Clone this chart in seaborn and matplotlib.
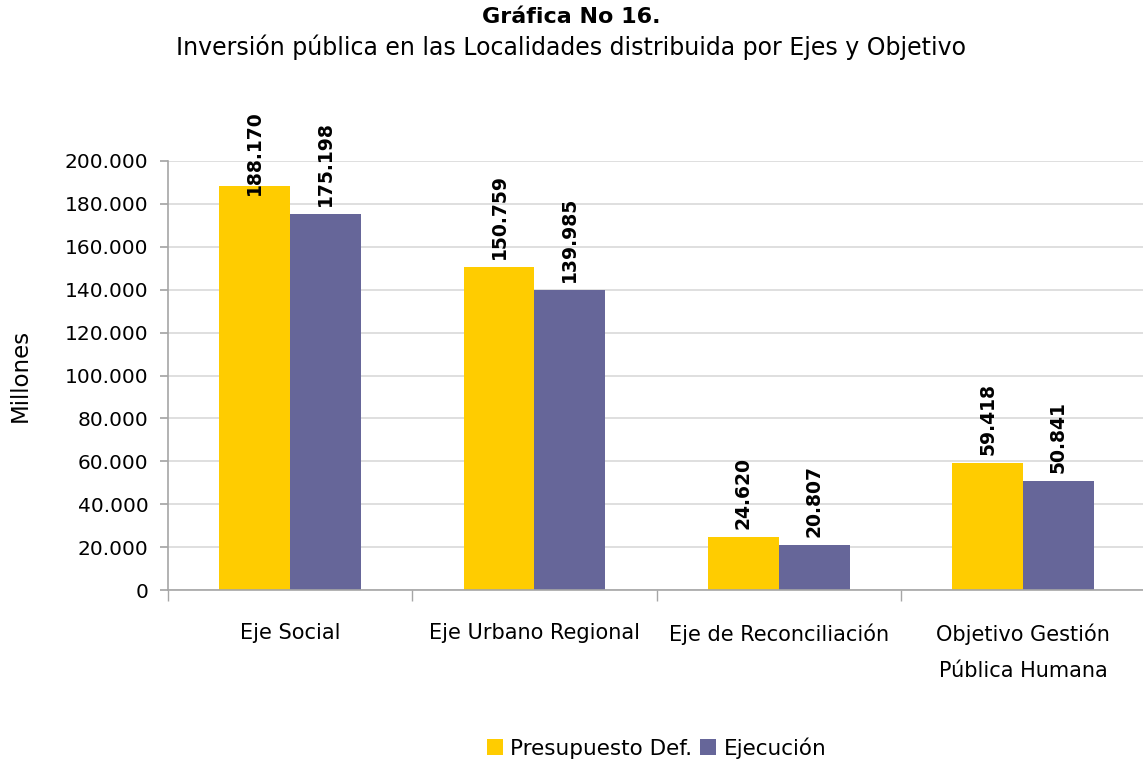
import matplotlib
matplotlib.use("Agg")
import matplotlib.pyplot as plt
import seaborn as sns
import pandas as pd
import numpy as np
from matplotlib.ticker import FuncFormatter, FixedLocator

categories = ["Eje Social", "Eje Urbano Regional", "Eje de Reconciliación",
              "Objetivo Gestión\nPública Humana"]
presupuesto = [188170, 150759, 24620, 59418]
ejecucion = [175198, 139985, 20807, 50841]
series = ["Presupuesto Def.", "Ejecución"]
colors = ["#FFCC00", "#666699"]
yticks = [0, 20000, 40000, 60000, 80000, 100000, 120000, 140000, 160000, 180000, 200000]

df = pd.DataFrame({
    "cat": categories * 2,
    "serie": [series[0]] * 4 + [series[1]] * 4,
    "val": presupuesto + ejecucion,
})

sns.set_theme(style="white")
plt.rcParams['font.family'] = ['DejaVu Sans']
plt.rcParams['text.color'] = 'black'
plt.rcParams['axes.labelcolor'] = 'black'
plt.rcParams['xtick.color'] = 'black'
plt.rcParams['ytick.color'] = 'black'

fig = plt.figure(figsize=(11.43, 7.63), dpi=100)
ax = fig.add_axes([0.147, 0.2267, 0.855, 0.5623])

sns.barplot(data=df, x="cat", y="val", hue="serie", palette=colors,
            width=0.58, gap=0, dodge=True, ax=ax, saturation=1,
            edgecolor="none", linewidth=0, legend=True)

ax.set_ylim(0, 200000)
ax.set_xlim(-0.5, 3.5)
ax.set_yticks(yticks)
ax.yaxis.set_major_formatter(FuncFormatter(lambda v, p: f"{int(v):,}".replace(",", ".")))
ax.grid(axis="y", color="#d9d9d9", linewidth=1.2)
ax.set_axisbelow(True)
for s in ["top", "right"]:
    ax.spines[s].set_visible(False)
for s in ["left", "bottom"]:
    ax.spines[s].set_color("#a6a6a6")
    ax.spines[s].set_linewidth(1.2)

ax.tick_params(axis="y", which="major", left=True, length=6, color="#a6a6a6",
               labelsize=14.5, pad=8)
ax.tick_params(axis="x", which="major", bottom=False, labelsize=15, pad=18)
ax.xaxis.set_minor_locator(FixedLocator([-0.5, 0.5, 1.5, 2.5, 3.5]))
ax.tick_params(axis="x", which="minor", bottom=True, length=8, color="#a6a6a6")
for lab in ax.get_xticklabels():
    lab.set_linespacing(2.0)
    lab.set_va("top")

ax.set_xlabel("")
ax.set_ylabel("Millones", fontsize=16.5)
ax.yaxis.set_label_coords(-0.139, 0.5)

# value labels
gap = 3730
lab_len = 37300
top_limit = 221445
for container, vals in zip(ax.containers, [presupuesto, ejecucion]):
    for bar, v in zip(container, vals):
        xc = bar.get_x() + bar.get_width() / 2
        yb = min(v + gap, top_limit - lab_len)
        ax.text(xc, yb, f"{v:,}".replace(",", "."), rotation=90, ha="center",
                va="bottom", fontsize=13.5, fontweight="bold", clip_on=False)

leg = ax.legend(loc="center", bbox_to_anchor=(0.5, -0.368), ncol=2,
                frameon=False, fontsize=15.5, handlelength=0.75, handleheight=0.75,
                handletextpad=0.35, columnspacing=0.35)

fig.text(0.5, 0.978, "Gráfica No 16.", ha="center", va="center", fontsize=16,
         fontweight="bold")
fig.text(0.5, 0.938, "Inversión pública en las Localidades distribuida por Ejes y Objetivo",
         ha="center", va="center", fontsize=17)

fig.savefig("out.png", dpi=100)
